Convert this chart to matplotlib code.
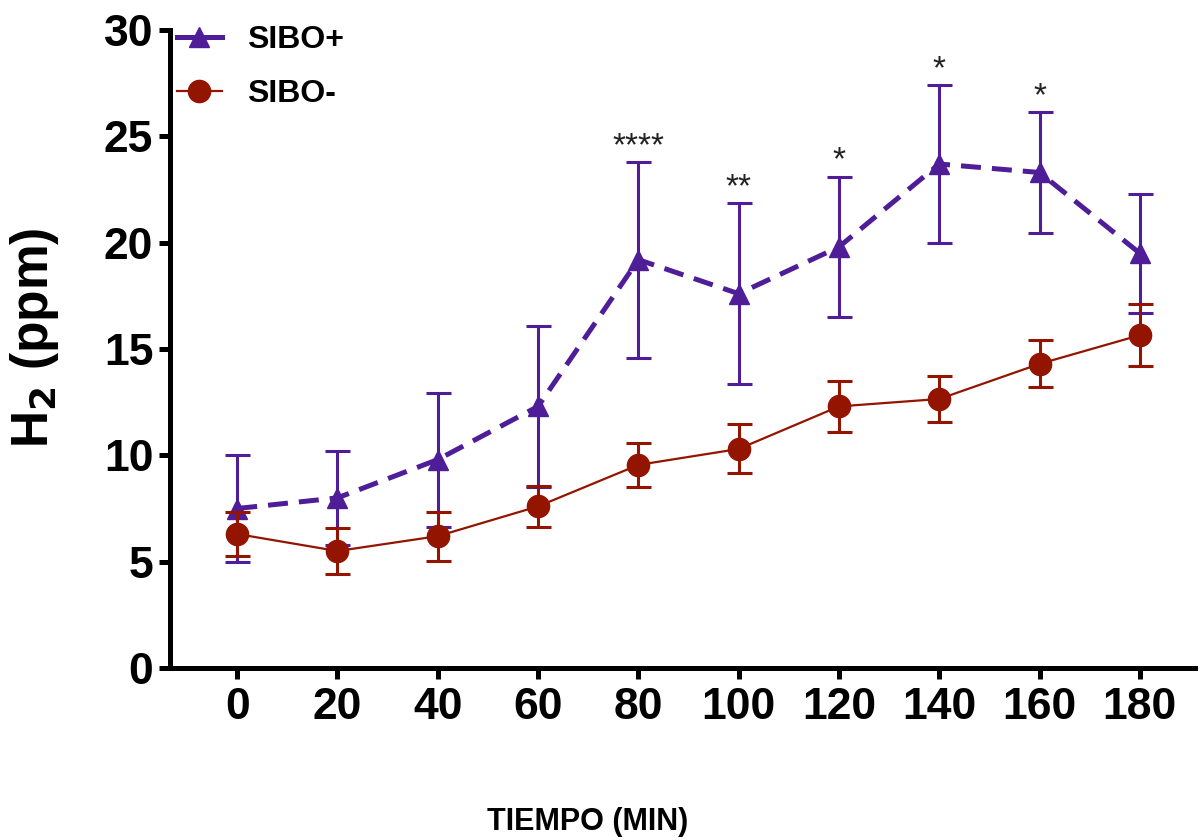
import matplotlib.pyplot as plt
from matplotlib.lines import Line2D
import numpy as np

plt.rcParams['font.family'] = ['Liberation Sans', 'DejaVu Sans']

# minutes
tiempo = [0, 20, 40, 60, 80, 100, 120, 140, 160, 180]

# SIBO+ mean and error
sibo_pos = [7.5, 8.0, 9.8, 12.3, 19.2, 17.6, 19.8, 23.7, 23.3, 19.5]
sibo_pos_err = [2.5, 2.2, 3.15, 3.8, 4.6, 4.25, 3.3, 3.7, 2.85, 2.8]

# SIBO- mean and error
sibo_neg = [6.3, 5.5, 6.2, 7.6, 9.55, 10.3, 12.3, 12.65, 14.3, 15.65]
sibo_neg_err = [1.05, 1.1, 1.15, 0.95, 1.05, 1.15, 1.2, 1.1, 1.1, 1.45]

# significance marks above SIBO+ bars
sig_x = [80, 100, 120, 140, 160]
sig_labels = ["****", "**", "*", "*", "*"]

purple = "#4f1d97"
red = "#931500"

fig = plt.figure(figsize=(12, 8.4), dpi=100)
ax = fig.add_axes([170 / 1200, 1 - 668 / 840, 1025 / 1200, 638 / 840])

ax.errorbar(tiempo, sibo_pos, yerr=sibo_pos_err, color=purple, ls=(0, (4, 2.2)),
            lw=3.6, marker="^", ms=15, elinewidth=2.2, capsize=9, capthick=2.2, zorder=3)
ax.errorbar(tiempo, sibo_neg, yerr=sibo_neg_err, color=red, ls="-",
            lw=1.6, marker="o", ms=16, elinewidth=2.2, capsize=9, capthick=2.2, zorder=4)

for xv, lab in zip(sig_x, sig_labels):
    i = tiempo.index(xv)
    ax.annotate(lab, (xv, sibo_pos[i] + sibo_pos_err[i]), xytext=(0, 0),
                textcoords="offset points", ha="center", va="bottom",
                fontsize=24, color="#222222")

ax.set_xlim(-13.4, 191)
ax.set_ylim(0, 30)
ax.set_xticks(tiempo)
ax.set_yticks([0, 5, 10, 15, 20, 25, 30])
for s in ["top", "right"]:
    ax.spines[s].set_visible(False)
for s in ["left", "bottom"]:
    ax.spines[s].set_linewidth(3.6)
ax.tick_params(width=3.6, length=8, labelsize=32, pad=4)
ax.tick_params(axis="x", pad=6)
for t in ax.get_xticklabels() + ax.get_yticklabels():
    t.set_fontweight("bold")

handles = [Line2D([], [], color=purple, lw=3.6, marker="^", ms=15),
           Line2D([], [], color=red, lw=1.6, marker="o", ms=16)]
ax.legend(handles, ["SIBO+", "SIBO-"], loc="upper left",
          bbox_to_anchor=(177 / 1200, 1 - 25 / 840), bbox_transform=fig.transFigure,
          frameon=False, prop={"size": 23, "weight": "bold"},
          handlelength=1.4, handletextpad=0.8, labelspacing=0.75, borderpad=0, borderaxespad=0)

fig.text(35 / 1200, 1 - 338 / 840, "H$_\\mathbf{2}$ (ppm)", rotation=90,
         ha="center", va="center", fontsize=37, fontweight="bold")
fig.text(588 / 1200, 1 - 822 / 840, "TIEMPO (MIN)", ha="center", va="center",
         fontsize=22, fontweight="bold")

fig.savefig("out.png", dpi=100)
